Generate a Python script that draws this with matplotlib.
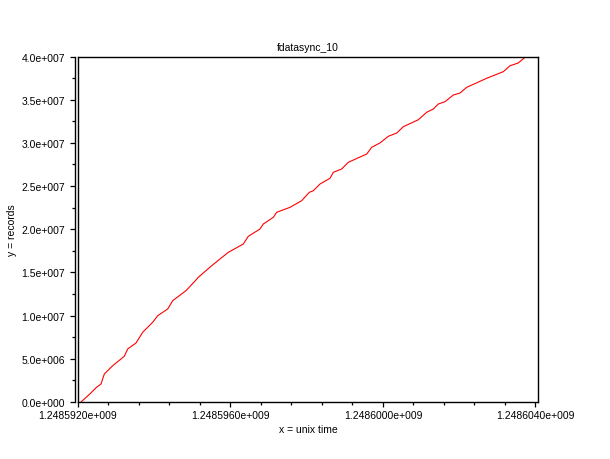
import matplotlib
matplotlib.use('Agg')
import matplotlib.pyplot as plt
from matplotlib.ticker import FuncFormatter, MultipleLocator

plt.rcParams['font.family'] = ['Liberation Sans', 'DejaVu Sans']

# datos (unix time, registros)
tiempo = [1248592079, 1248592310, 1248592485, 1248592603, 1248592690, 1248592910,
          1248593214, 1248593304,
          1248593521, 1248593697, 1248593959, 1248594091, 1248594353, 1248594484,
          1248594833, 1248595077, 1248595156, 1248595507, 1248595725, 1248595943,
          1248596336, 1248596467, 1248596774, 1248596861, 1248597123, 1248597212,
          1248597561, 1248597868, 1248598067, 1248598172, 1248598348, 1248598610,
          1248598697, 1248598917, 1248599090, 1248599573, 1248599704, 1248599921,
          1248600139, 1248600360, 1248600533, 1248600926, 1248601146, 1248601320,
          1248601451, 1248601627, 1248601844, 1248602020, 1248602195, 1248602720,
          1248603155, 1248603331, 1248603549, 1248603725, 1248603987]
registros = [0.0, 9.3e5, 1.7e6, 2.08e6, 3.24e6, 4.20e6,
             5.29e6, 6.14e6,
             6.83e6, 8.07e6, 9.23e6, 9.99e6, 1.077e7, 1.173e7,
             1.289e7, 1.404e7, 1.444e7, 1.578e7, 1.656e7, 1.733e7,
             1.829e7, 1.918e7, 2.003e7, 2.061e7, 2.138e7, 2.196e7,
             2.254e7, 2.331e7, 2.428e7, 2.446e7, 2.524e7, 2.590e7,
             2.659e7, 2.698e7, 2.775e7, 2.871e7, 2.949e7, 2.999e7,
             3.076e7, 3.114e7, 3.187e7, 3.268e7, 3.354e7, 3.392e7,
             3.450e7, 3.477e7, 3.554e7, 3.577e7, 3.643e7, 3.748e7,
             3.824e7, 3.893e7, 3.925e7, 3.991e7, 4.0e7]

titulo = 'fdatasync_10'
etiqueta_x = 'x = unix time'
etiqueta_y = 'y = records'


def formato_sci(decimales):
    # exponente con tres cifras, como en Windows
    def f(v, pos):
        s = f"{v:.{decimales}e}"
        mant, exp = s.split('e')
        return f"{mant}e{exp[0]}{int(exp[1:]):03d}"
    return FuncFormatter(f)


fig = plt.figure(figsize=(6.1, 4.6), dpi=100)
ax = fig.add_axes([78 / 610, 57 / 460, 460 / 610, 345.5 / 460])

ax.plot(tiempo, registros, color='red', lw=0.8)

ax.set_xlim(1248592000, 1248604066)
ax.set_ylim(0, 4.0e7)

ax.xaxis.set_major_locator(MultipleLocator(4000))
ax.xaxis.set_minor_locator(MultipleLocator(800))
ax.yaxis.set_major_locator(MultipleLocator(5e6))
ax.yaxis.set_minor_locator(MultipleLocator(2.5e6))
ax.xaxis.set_major_formatter(formato_sci(7))
ax.yaxis.set_major_formatter(formato_sci(1))

ax.tick_params(axis='both', which='major', labelsize=7.5, length=3.5, width=0.9, direction='out')
ax.tick_params(axis='both', which='minor', length=2.2, width=0.9, direction='out')
ax.tick_params(axis='x', pad=2.5)
ax.tick_params(axis='y', pad=4)

# eje izquierdo doble
for lado in ax.spines.values():
    lado.set_linewidth(1.0)
ax.spines['left'].set_position(('outward', 2))
ax.plot([0, 0], [0, 1], transform=ax.transAxes, color='black', lw=1.0, clip_on=False)

ax.set_title(titulo, fontsize=7.5, pad=5)
ax.set_xlabel(etiqueta_x, fontsize=7.5, labelpad=3)
ax.set_ylabel(etiqueta_y, fontsize=7.5, labelpad=3)

fig.savefig('out.png', dpi=100)
